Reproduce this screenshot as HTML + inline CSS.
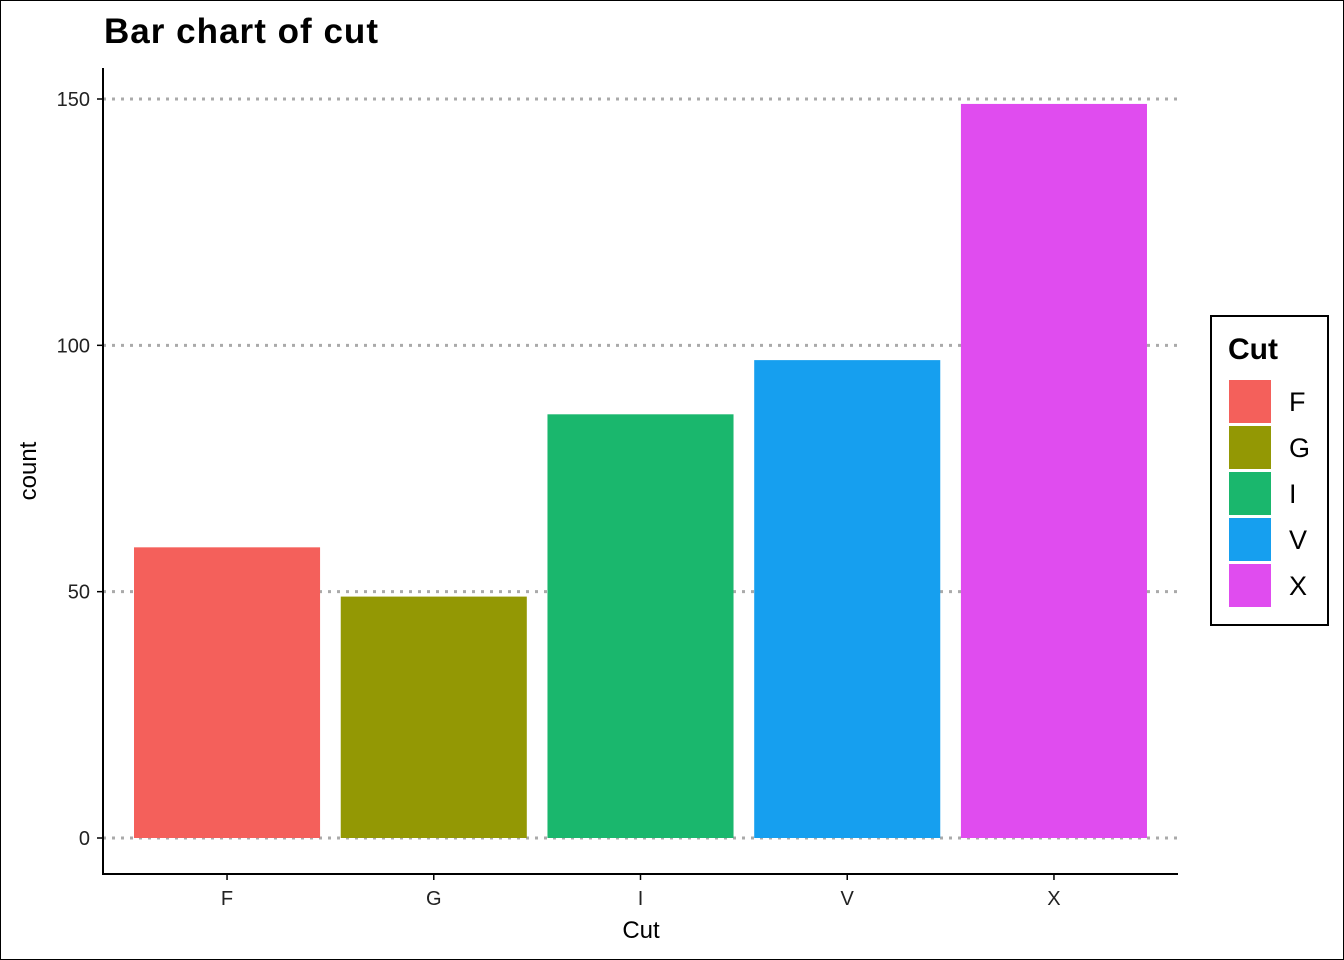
<!DOCTYPE html>
<html><head><meta charset="utf-8"><style>
html,body{margin:0;padding:0;background:#fff;}
svg{display:block;font-family:"Liberation Sans",Arial,sans-serif;}
</style></head><body>
<svg id="chart" width="1344" height="960">
<rect x="0.5" y="0.5" width="1343" height="959" fill="#fff" stroke="#000" stroke-width="1"/>
<text x="104" y="43" font-size="35" font-weight="bold" textLength="274" lengthAdjust="spacing">Bar chart of cut</text>
<g id="grid"></g><g id="bars"></g><g id="axes"></g><g id="legend"></g>
</svg>
<script>
const categories = ["F","G","I","V","X"];
const counts = [59,49,86,97,149];
const colors = ["#F4605B","#939804","#1AB76D","#169FEF","#E04CEF"];
const yTicks = [0,50,100,150];
const yTickLabels = ["0","50","100","150"];

const NS="http://www.w3.org/2000/svg";
function mk(tag,attrs,parent,text){const e=document.createElementNS(NS,tag);for(const k in attrs)e.setAttribute(k,attrs[k]);if(text!==undefined)e.textContent=text;parent.appendChild(e);return e;}
const x0=103,x1=1178,yBase=838,y150=99;
const band=(x1-x0)/(categories.length+0.2);
function xCenter(i){return x0+band*0.6+band*i;}
function yScale(v){return yBase-(yBase-y150)*v/150;}
const grid=document.getElementById('grid'),bars=document.getElementById('bars'),axes=document.getElementById('axes'),legend=document.getElementById('legend');
yTicks.forEach((t,i)=>{
  const y=yScale(t);
  const g=mk('line',{x1:x0,x2:x1,y1:y,y2:y,stroke:'#aaa','stroke-width':3,'stroke-dasharray':'3,6'},grid);
  
  
  const tk=mk('line',{x1:x0-6,x2:x0,y1:y,y2:y,stroke:'#000','stroke-width':1.5},axes);
  
  
  const lb=mk('text',{x:x0-13,y:y+7,'font-size':20,'text-anchor':'end',fill:'#222'},axes,yTickLabels[i]);
  
  
});
categories.forEach((c,i)=>{
  const cx=xCenter(i),w=band*0.9,top=yScale(counts[i]);
  const r=mk('rect',{x:cx-w/2,y:top,width:w,height:yBase-top,fill:colors[i]},bars);
  
  
  const tk=mk('line',{x1:cx,x2:cx,y1:874,y2:880,stroke:'#000','stroke-width':1.5},axes);
  
  
  const lb=mk('text',{x:cx,y:905,'font-size':20,'text-anchor':'middle',fill:'#222'},axes,c);
  
  
});
const ax=mk('path',{d:`M${x0},68 V874 H${x1}`,fill:'none',stroke:'#000','stroke-width':2},axes);


const xt=mk('text',{x:641,y:938,'font-size':24,'text-anchor':'middle'},axes,'Cut');


const yt=mk('text',{x:0,y:0,'font-size':24,'text-anchor':'middle',transform:'translate(36,471) rotate(-90)'},axes,'count');


const lbox=mk('rect',{x:1211,y:316,width:117,height:309,fill:'#fff',stroke:'#000','stroke-width':2},legend);


const lt=mk('text',{x:1228,y:359,'font-size':30,'font-weight':'bold'},legend,'Cut');


categories.forEach((c,i)=>{
  const y=380+i*46;
  const k=mk('rect',{x:1229,y:y,width:42,height:43,fill:colors[i]},legend);
  
  
  const t=mk('text',{x:1289,y:y+31,'font-size':27},legend,c);
  
  
});
</script>
</body></html>
